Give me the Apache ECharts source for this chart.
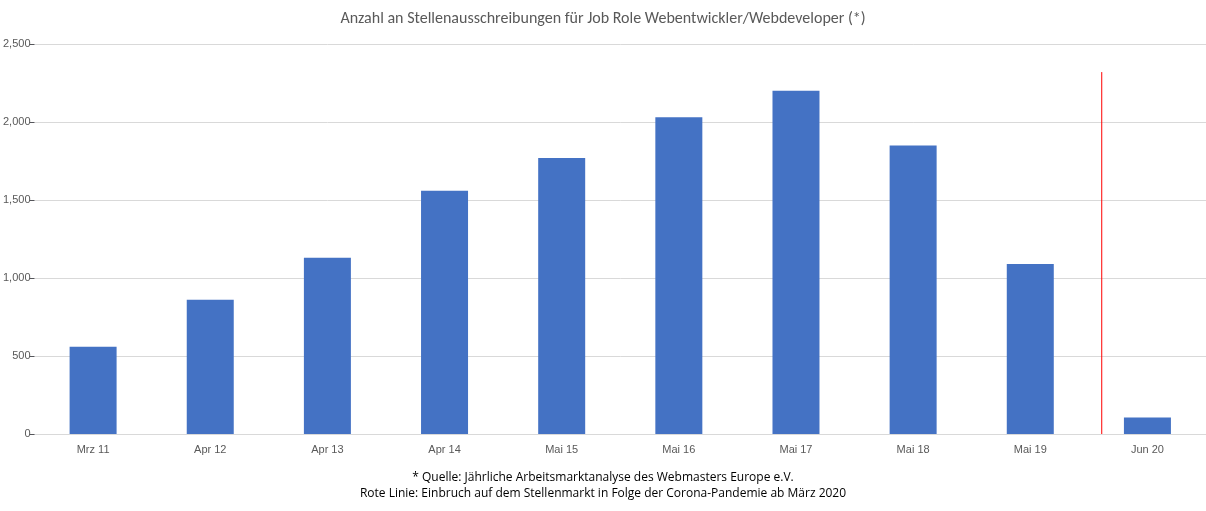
<!DOCTYPE html>
<html><head><meta charset="utf-8">
<script src="https://cdn.jsdelivr.net/npm/echarts@6/dist/echarts.min.js"></script>
<style>html,body{margin:0;padding:0;background:#fff}#c{width:1206px;height:511px}</style>
</head><body><div id="c"></div>
<script>
const categories = ['Mrz 11','Apr 12','Apr 13','Apr 14','Mai 15','Mai 16','Mai 17','Mai 18','Mai 19','Jun 20'];
const values = [560, 860, 1130, 1560, 1770, 2030, 2200, 1850, 1090, 105];
const redLineX = 9.11;
const redLineTop = 2320;
const chart = echarts.init(document.getElementById('c'));
chart.setOption({
  animation:false,
  title:{text:'Anzahl an Stellenausschreibungen für Job Role Webentwickler/Webdeveloper (*)',left:'center',top:6,
    textStyle:{fontFamily:'Calibri, Carlito, "Open Sans", sans-serif',fontSize:16,fontWeight:'normal',color:'#595959'}},
  graphic:[
    {type:'text',left:'center',top:472,style:{text:'* Quelle: Jährliche Arbeitsmarktanalyse des Webmasters Europe e.V.',font:'12px "Open Sans", sans-serif',fill:'#000'}},
    {type:'text',left:'center',top:488,style:{text:'Rote Linie: Einbruch auf dem Stellenmarkt in Folge der Corona-Pandemie ab März 2020',font:'12px "Open Sans", sans-serif',fill:'#000'}}
  ],
  grid:{left:29,right:-3,top:44,bottom:77,containLabel:false},
  xAxis:[
    {type:'category',data:categories,axisTick:{show:false},axisLine:{lineStyle:{color:'#d9d9d9'}},
     axisLabel:{color:'#595959',fontSize:11,margin:10}},
    {type:'value',min:0,max:10,show:false}
  ],
  yAxis:{type:'value',min:0,max:2500,interval:500,
    axisLabel:{color:'#595959',fontSize:11,margin:4,align:'right'},
    splitLine:{lineStyle:{color:'#d9d9d9'}},axisLine:{show:false}},
  series:[
    {type:'bar',data:values,barWidth:47,itemStyle:{color:'#4472c4'}},
    {type:'line',xAxisIndex:1,data:[[redLineX,0],[redLineX,redLineTop]],symbol:'none',
     lineStyle:{color:'#ff0000',width:1}}
  ]
});
</script></body></html>
